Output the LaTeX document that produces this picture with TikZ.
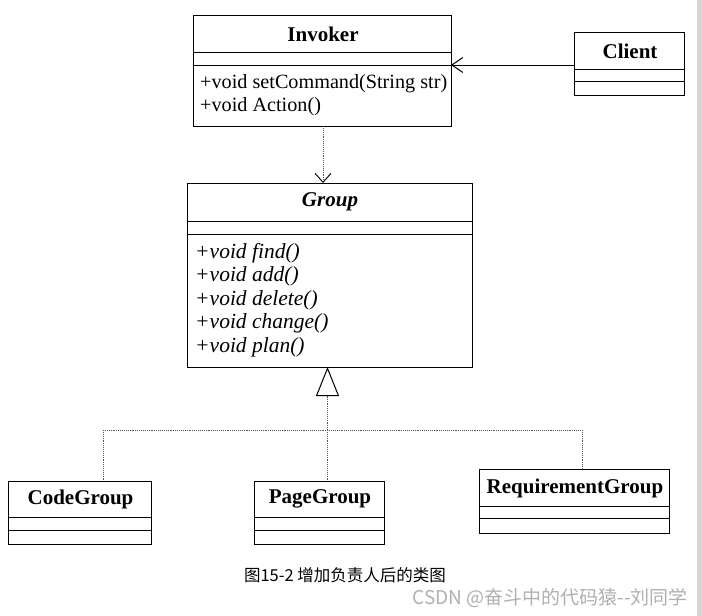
\documentclass[tikz,border=0pt]{standalone}
\usepackage{fontspec}
\setmainfont{Liberation Serif}
\newfontfamily\cjk{Noto Sans CJK SC}
\usetikzlibrary{arrows.meta}
\definecolor{wmgray}{HTML}{B0B0B0}
\definecolor{bargray}{HTML}{D6D6D6}
\definecolor{dotgray}{HTML}{555555}
\tikzset{
  cls/.style={draw, line width=1pt, anchor=north west, inner sep=0pt, outer sep=0pt},
  sepline/.style={line width=1pt},
  cname/.style={font=\fontsize{21}{24}\selectfont\bfseries, inner sep=0pt},
  op/.style={font=\fontsize{20.2}{23}\selectfont, anchor=west, inner sep=0pt},
  iop/.style={font=\fontsize{21.5}{23}\selectfont\itshape, anchor=west, inner sep=0pt},
  dep/.style={densely dotted, line width=0.9pt, draw=dotgray, -{Straight Barb[length=9pt,width=16pt,line width=0.9pt,color=black]}},
  assoc/.style={line width=1pt, -{Straight Barb[length=11pt,width=15pt,line width=1pt]}},
  realiz/.style={densely dotted, line width=0.9pt, draw=dotgray},
  inh/.style={realiz, -{Triangle[open,length=29pt,width=23pt,line width=1pt,color=black,fill=white]}}
}
\begin{document}
\begin{tikzpicture}[x=1pt,y=-1pt]
\useasboundingbox (0,0) rectangle (702,616);
\fill[white] (0,0) rectangle (702,616);
\fill[bargray] (697,0) rectangle (702,616);

% Invoker
\node[cls, minimum width=258pt, minimum height=111pt] (invoker) at (193,15) {};
\draw[sepline] (193,52) -- (451,52);
\draw[sepline] (193,65) -- (451,65);
\node[cname] (invokerName) at (323,34) {Invoker};
\node[op] (invokerOp1) at (200,84) {+void setCommand(String str)};
\node[op] (invokerOp2) at (200,107) {+void Action()};

% Client
\node[cls, minimum width=110pt, minimum height=63pt] (client) at (574,32) {};
\draw[sepline] (574,69) -- (684,69);
\draw[sepline] (574,81) -- (684,81);
\node[cname] (clientName) at (630,51) {Client};

% Group
\node[cls, minimum width=285pt, minimum height=184pt] (group) at (187,183) {};
\draw[sepline] (187,221) -- (472,221);
\draw[sepline] (187,234) -- (472,234);
\node[cname, font=\fontsize{21}{24}\selectfont\bfseries\itshape] (groupName) at (330,202) {Group};
\node[iop] (gop1) at (195,253) {+void find()};
\node[iop] (gop2) at (195,276.5) {+void add()};
\node[iop] (gop3) at (195,300) {+void delete()};
\node[iop] (gop4) at (195,323.5) {+void change()};
\node[iop] (gop5) at (195,347) {+void plan()};

% CodeGroup
\node[cls, minimum width=143pt, minimum height=63pt] (code) at (8,481) {};
\draw[sepline] (8,517) -- (151,517);
\draw[sepline] (8,530) -- (151,530);
\node[cname] (codeName) at (80.5,499) {CodeGroup};

% PageGroup
\node[cls, minimum width=130pt, minimum height=63pt] (page) at (254,481) {};
\draw[sepline] (254,517) -- (384,517);
\draw[sepline] (254,530) -- (384,530);
\node[cname] (pageName) at (320,499) {PageGroup};

% RequirementGroup
\node[cls, minimum width=190pt, minimum height=64pt] (req) at (479,469) {};
\draw[sepline] (479,506) -- (669,506);
\draw[sepline] (479,518) -- (669,518);
\node[cname] (reqName) at (575,488) {RequirementGroup};

% connectors
\draw[assoc] (client.west |- 0,65) -- (invoker.east |- 0,65);
\draw[dep] (323,0 |- invoker.south) -- (323,0 |- group.north);

\coordinate (junc) at (327.5,430);
\coordinate (jcode) at (103,430);
\coordinate (jreq) at (582,430);
\draw[inh] (junc) -- (junc |- group.south);
\draw[realiz] (jcode) -- (jreq);
\draw[realiz] (jcode) -- (jcode |- code.north);
\draw[realiz] (junc) -- (junc |- page.north);
\draw[realiz] (jreq) -- (jreq |- req.north);

% caption
\node[inner sep=0pt, font=\cjk\fontsize{16.5}{18}\selectfont] (caption) at (345,575) {图15-2 增加负责人后的类图};
\node[inner sep=0pt, anchor=east, text=wmgray, font=\cjk\fontsize{19}{22}\selectfont] (wm) at (688,598) {CSDN @奋斗中的代码猿--刘同学};
\end{tikzpicture}
\end{document}
